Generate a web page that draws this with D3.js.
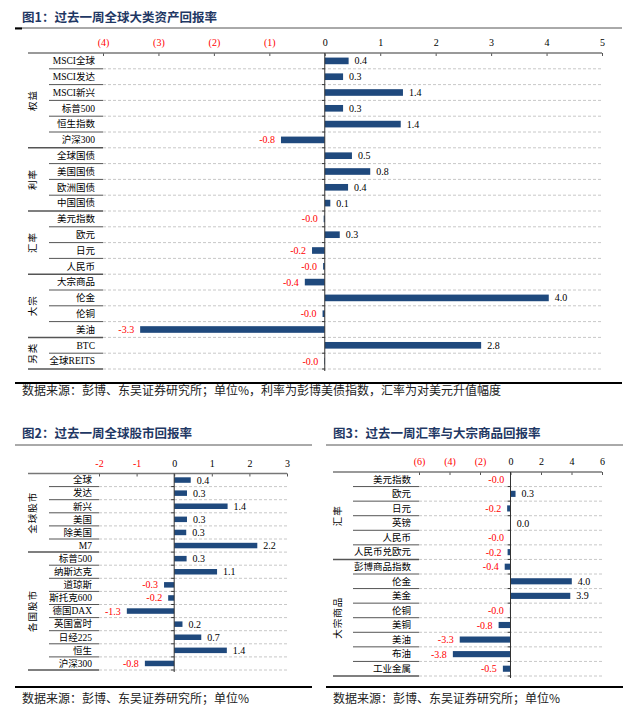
<!DOCTYPE html>
<html>
<head>
<meta charset="utf-8">
<script src="https://cdn.jsdelivr.net/npm/d3@7"></script>
<style>
  body { margin: 0; background: #fff; }
  svg { display: block; }
</style>
</head>
<body>
<svg id="chart" width="640" height="715"></svg>
<script>
// 图1 data
var names1 = ["MSCI全球", "MSCI发达", "MSCI新兴", "标普500", "恒生指数", "沪深300",
  "全球国债", "美国国债", "欧洲国债", "中国国债",
  "美元指数", "欧元", "日元", "人民币",
  "大宗商品", "伦金", "伦铜", "美油",
  "BTC", "全球REITS"];
var values1 = [0.43, 0.33, 1.41, 0.33, 1.37, -0.79,
  0.49, 0.82, 0.42, 0.10,
  -0.02, 0.27, -0.23, -0.03,
  -0.36, 4.04, -0.04, -3.33,
  2.82, -0.01];
var groups1 = ["权益", "利率", "汇率", "大宗", "另类"];
var groupSizes1 = [6, 4, 4, 4, 2];
var ticks1 = [-4, -3, -2, -1, 0, 1, 2, 3, 4, 5];

// 图2 data
var names2 = ["全球", "发达", "新兴", "美国", "除美国", "M7",
  "标普500", "纳斯达克", "道琼斯", "斯托克600", "德国DAX", "英国富时", "日经225", "恒生", "沪深300"];
var values2 = [0.44, 0.34, 1.42, 0.34, 0.32, 2.21,
  0.33, 1.14, -0.27, -0.16, -1.26, 0.22, 0.72, 1.40, -0.78];
var groups2 = ["全球股市", "各国股市"];
var groupSizes2 = [6, 9];
var ticks2 = [-2, -1, 0, 1, 2, 3];

// 图3 data
var names3 = ["美元指数", "欧元", "日元", "英镑", "人民币", "人民币兑欧元",
  "彭博商品指数", "伦金", "美金", "伦铜", "美铜", "美油", "布油", "工业金属"];
var values3 = [-0.02, 0.33, -0.22, 0.02, -0.03, -0.19,
  -0.38, 4.02, 3.92, -0.04, -0.78, -3.33, -3.78, -0.50];
var groups3 = ["汇率", "大宗商品"];
var groupSizes3 = [6, 8];
var ticks3 = [-6, -4, -2, 0, 2, 4, 6];

var svg = d3.select("#chart");
var serif = "'Liberation Serif', 'Times New Roman', 'Noto Sans CJK SC', serif";
var cjk = "'Noto Sans CJK SC', sans-serif";
var barColor = "#1f497d";
var red = "#ff0000";

function fmtVal(v) {
  return (v < 0 ? "-" : "") + Math.abs(v).toFixed(1);
}
function fmtParen(v) {
  return v < 0 ? "(" + Math.abs(v) + ")" : String(v);
}
function fmtPlain(v) {
  return v < 0 ? "-" + Math.abs(v) : String(v);
}

function header(x, lineX0, lineX1, titleY, lineY, title, thickTick) {
  svg.append("text")
    .attr("x", x).attr("y", titleY)
    .attr("font-family", cjk).attr("font-size", "12.5px").attr("font-weight", "bold")
    .attr("fill", "#1f3864")
    .text(title);
  svg.append("line")
    .attr("x1", lineX0).attr("x2", lineX1).attr("y1", lineY).attr("y2", lineY)
    .attr("stroke", "#555").attr("stroke-width", 1);
  if (thickTick) {
    svg.append("line")
      .attr("x1", lineX0).attr("x2", lineX0 + 7).attr("y1", lineY + 0.5).attr("y2", lineY + 0.5)
      .attr("stroke", "#000").attr("stroke-width", 2);
  }
}

function footer(x, lineX0, lineX1, lineY, textY, txt) {
  svg.append("line")
    .attr("x1", lineX0).attr("x2", lineX1).attr("y1", lineY).attr("y2", lineY)
    .attr("stroke", "#000").attr("stroke-width", 2);
  svg.append("text")
    .attr("x", x).attr("y", textY)
    .attr("font-family", cjk).attr("font-size", "12px")
    .attr("fill", "#222")
    .text(txt);
}

function panel(o) {
  var x = d3.scaleLinear().domain(o.domain).range([o.left, o.right]);
  var y = d3.scaleBand().domain(o.names).range([o.top, o.bottom]);
  var g = svg.append("g");
  var bw = y.bandwidth();

  // dashed grid at row boundaries
  var bounds = o.names.map(function(d) { return y(d) + bw; });
  g.selectAll(".grid").data(bounds).enter().append("line")
    .attr("x1", o.left).attr("x2", o.right)
    .attr("y1", function(d) { return d; }).attr("y2", function(d) { return d; })
    .attr("stroke", "#c8c8c8").attr("stroke-dasharray", "3,2");

  // label column separators
  var ends = [];
  var acc = 0;
  o.groupSizes.forEach(function(n) { acc += n; ends.push(acc - 1); });
  g.selectAll(".sep").data(o.names).enter().append("line")
    .attr("x1", function(d, i) { return ends.indexOf(i) >= 0 ? o.groupX0 : o.rowX0; })
    .attr("x2", o.left)
    .attr("y1", function(d) { return y(d) + bw; }).attr("y2", function(d) { return y(d) + bw; })
    .attr("stroke", "#555").attr("stroke-width", function(d, i) { return ends.indexOf(i) >= 0 ? 1.5 : 1; });

  // top axis
  var axis = d3.axisTop(x).tickValues(o.ticks).tickSize(-3).tickPadding(7).tickFormat(o.tickFmt);
  var ag = g.append("g").attr("transform", "translate(0," + o.top + ")").call(axis);
  ag.select(".domain").remove();
  ag.selectAll(".tick line").attr("stroke", "#555");
  ag.selectAll(".tick text")
    .attr("font-family", serif).attr("font-size", "10px")
    .attr("fill", function(d) { return d < 0 ? red : "#000"; });
  g.append("line")
    .attr("x1", o.groupX0).attr("x2", o.right).attr("y1", o.top).attr("y2", o.top)
    .attr("stroke", "#777").attr("stroke-width", 1.5);

  // row labels
  g.selectAll(".lab").data(o.names).enter().append("text")
    .attr("x", o.labelRight)
    .attr("y", function(d) { return y(d) + bw / 2; })
    .attr("dy", "0.35em")
    .attr("text-anchor", "end")
    .attr("font-family", serif).attr("font-size", "9.5px").attr("fill", "#000")
    .text(function(d) { return d; });

  // group labels
  var start = 0;
  o.groups.forEach(function(name, i) {
    var n = o.groupSizes[i];
    var cy = (y(o.names[start]) + y(o.names[start + n - 1]) + bw) / 2;
    g.append("text")
      .attr("transform", "translate(" + o.groupLabelX + "," + cy + ") rotate(-90)")
      .attr("text-anchor", "middle").attr("dy", "0.35em")
      .attr("font-family", cjk).attr("font-size", "9.5px").attr("fill", "#000")
      .attr("letter-spacing", "1px")
      .text(name);
    start += n;
  });

  // bars
  var bh = bw * o.barFrac;
  g.selectAll(".bar").data(o.values).enter().append("rect")
    .attr("x", function(d) { return x(Math.min(0, d)); })
    .attr("width", function(d) { return Math.abs(x(d) - x(0)); })
    .attr("y", function(d, i) { return y(o.names[i]) + (bw - bh) / 2; })
    .attr("height", bh)
    .attr("fill", barColor);

  // value labels
  g.selectAll(".val").data(o.values).enter().append("text")
    .attr("x", function(d) { return d < 0 ? x(d) - 6 : x(d) + 6; })
    .attr("y", function(d, i) { return y(o.names[i]) + bw / 2; })
    .attr("dy", "0.35em")
    .attr("text-anchor", function(d) { return d < 0 ? "end" : "start"; })
    .attr("font-family", serif).attr("font-size", "10px")
    .attr("fill", function(d) { return d < 0 ? red : "#000"; })
    .text(fmtVal);

  // zero axis with left ticks
  g.append("line")
    .attr("x1", x(0)).attr("x2", x(0)).attr("y1", o.top).attr("y2", o.bottom + 2)
    .attr("stroke", "#333").attr("stroke-width", 1);
  g.selectAll(".ztick").data(bounds).enter().append("line")
    .attr("x1", x(0) - 3).attr("x2", x(0))
    .attr("y1", function(d) { return d; }).attr("y2", function(d) { return d; })
    .attr("stroke", "#333");
}

// 图1
header(22, 15, 622, 22, 28, "图1：过去一周全球大类资产回报率", true);
panel({
  names: names1, values: values1, groups: groups1, groupSizes: groupSizes1,
  ticks: ticks1, tickFmt: fmtParen, domain: [-4, 5],
  left: 103, right: 602, top: 53, bottom: 369,
  groupX0: 28, rowX0: 49, labelRight: 95, groupLabelX: 33, barFrac: 0.42
});
footer(22, 15, 622, 383, 395, "数据来源：彭博、东吴证券研究所；单位%，利率为彭博美债指数，汇率为对美元升值幅度");

// 图2
header(22, 15, 312, 438, 445, "图2：过去一周全球股市回报率", false);
panel({
  names: names2, values: values2, groups: groups2, groupSizes: groupSizes2,
  ticks: ticks2, tickFmt: fmtPlain, domain: [-2, 3],
  left: 99, right: 287, top: 473.5, bottom: 670,
  groupX0: 28, rowX0: 49, labelRight: 92, groupLabelX: 33, barFrac: 0.42
});
footer(22, 15, 312, 687, 703, "数据来源：彭博、东吴证券研究所；单位%");

// 图3
header(333, 326, 623, 438, 445, "图3：过去一周汇率与大宗商品回报率", false);
panel({
  names: names3, values: values3, groups: groups3, groupSizes: groupSizes3,
  ticks: ticks3, tickFmt: fmtParen, domain: [-6, 6],
  left: 419, right: 602, top: 472, bottom: 676,
  groupX0: 333, rowX0: 353, labelRight: 411, groupLabelX: 338, barFrac: 0.42
});
footer(333, 326, 623, 687, 703, "数据来源：彭博、东吴证券研究所；单位%");
</script>
</body>
</html>
